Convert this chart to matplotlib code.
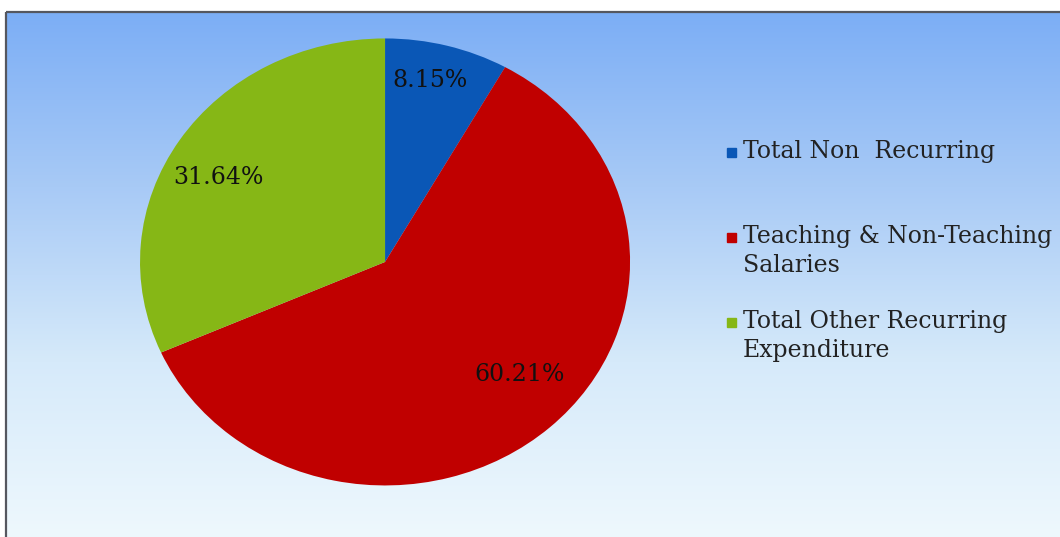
"""Pie chart of expenditure shares on a blue gradient panel."""

import matplotlib

matplotlib.use("Agg")
import matplotlib.pyplot as plt
import numpy as np
from matplotlib.colors import LinearSegmentedColormap
from matplotlib.patches import Rectangle

categories = [
    "Total Non  Recurring",
    "Teaching & Non-Teaching\nSalaries",
    "Total Other Recurring\nExpenditure",
]
shares = [8.15, 60.21, 31.64]
colors = ["#0A57B6", "#C00000", "#86B716"]

# where each percentage label sits (fraction of radius) and a small angle nudge
label_radius = [0.834, 0.745, 0.777]
label_turn = [2.0, 5.4, 3.9]

plt.rcParams.update(
    {
        "font.family": ["DejaVu Serif"],
        "font.size": 17,
    }
)

W, H = 1060, 537
fig = plt.figure(figsize=(W / 100, H / 100), dpi=100)

# gradient panel behind everything (pixel coordinates, y down)
bg = fig.add_axes([0.0, 0.0, 1.0, 1.0], zorder=0)
bg.set_xlim(0, W)
bg.set_ylim(H, 0)
bg.axis("off")
grad_cmap = LinearSegmentedColormap.from_list(
    "panel", ["#EEF8FD", "#D6EAFA", "#A8CAF6", "#7CAEF5"]
)
grad = np.linspace(0, 1, 256).reshape(-1, 1)
bg.imshow(
    grad,
    cmap=grad_cmap,
    aspect="auto",
    extent=(6, W, H, 12),
    origin="lower",
    interpolation="bicubic",
)
bg.add_patch(
    Rectangle((6, 12), W, H, fill=False, edgecolor="#55575F", lw=1.6)
)

# elliptical pie
ax = fig.add_axes([0.1321, 0.0960, 0.4623, 0.8324], zorder=1)
wedges, texts, autotexts = ax.pie(
    shares,
    colors=colors,
    startangle=90,
    counterclock=False,
    autopct="%.2f%%",
    textprops={"fontsize": 17, "color": "#111111"},
)
for wedge, txt, r, turn in zip(wedges, autotexts, label_radius, label_turn):
    theta = np.deg2rad((wedge.theta1 + wedge.theta2) / 2 + turn)
    txt.set_position((r * np.cos(theta), r * np.sin(theta)))
ax.set_aspect("auto")
ax.set_xlim(-1, 1)
ax.set_ylim(-1, 1)

# legend, drawn on the pixel overlay so the swatch sits on the first line
first_baseline, step, line_gap = 158, 85, 29
for i, (label, color) in enumerate(zip(categories, colors)):
    y = first_baseline + i * step
    bg.add_patch(Rectangle((727, y - 10), 8.5, 8.5, color=color, zorder=3))
    bg.text(
        743,
        y + label.count("\n") * line_gap,
        label,
        va="baseline",
        ha="left",
        fontsize=17,
        color="#222222",
        linespacing=1.35,
        zorder=3,
    )

fig.savefig("out.png", dpi=100)
